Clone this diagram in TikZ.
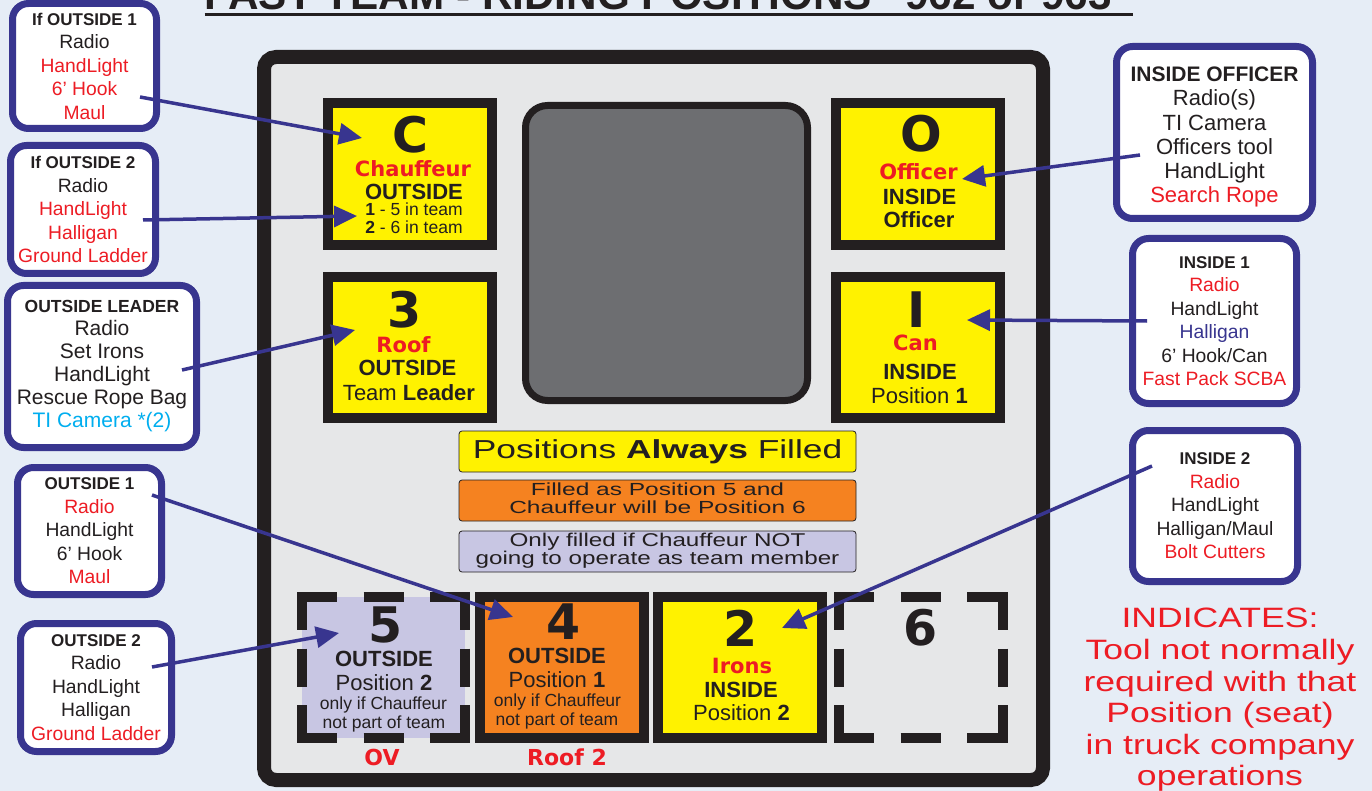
\documentclass[tikz,border=0pt]{standalone}
\usepackage{fontspec}
\setmainfont{Liberation Sans}
\newfontfamily\dispfont{DejaVu Sans}
\usepackage{graphicx}
\usetikzlibrary{positioning,calc,arrows.meta}
\definecolor{BgBlue}{HTML}{E6EDF6}
\definecolor{PanelGrey}{HTML}{E6E7E8}
\definecolor{Ink}{HTML}{231F20}
\definecolor{SeatYellow}{HTML}{FFF200}
\definecolor{SeatOrange}{HTML}{F58220}
\definecolor{SeatLilac}{HTML}{C8C6E3}
\definecolor{ScreenGrey}{HTML}{6D6E71}
\definecolor{CallNavy}{HTML}{38358F}
\definecolor{ToolRed}{HTML}{ED1C24}
\definecolor{CamCyan}{HTML}{00AEEF}
\newcommand\fsz[1]{\fontsize{#1}{#1}\selectfont}
\newcommand\xstretch[2]{\scalebox{#1}[1]{#2}}
\newcommand\toolred[1]{\textcolor{ToolRed}{#1}}
\newcommand\camcyan[1]{\textcolor{CamCyan}{#1}}
\newcommand\navytxt[1]{\textcolor{CallNavy}{#1}}

\begin{document}
\begin{tikzpicture}[x=1pt,y=-1pt,>={Triangle[length=23pt,width=21pt]}]
  \tikzstyle{callout}=[draw=CallNavy,line width=7pt,fill=white,rounded corners=16pt,
    align=center,inner sep=0pt,text=Ink,font=\fontsize{19.3}{23.5}\selectfont]
  \tikzstyle{seat}=[draw=Ink,line width=10pt,minimum width=164pt,minimum height=142pt,inner sep=0pt]
  \tikzstyle{spare}=[minimum width=164pt,minimum height=141pt,inner sep=0pt,outer sep=0pt]
  \tikzstyle{spareedge}=[draw=Ink,line width=10pt,dash pattern=on 40pt off 26.5pt]
  \tikzstyle{spareside}=[draw=Ink,line width=10pt,dash pattern=on 38pt off 18.5pt]
  \tikzstyle{seatno}=[anchor=base,inner sep=0pt,text=Ink,font=\dispfont\bfseries\fsz{49}]
  \tikzstyle{role}=[anchor=base,inner sep=0pt,text=ToolRed,font=\dispfont\bfseries\fsz{21}]
  \tikzstyle{seatline}=[anchor=base,inner sep=0pt,text=Ink,font=\fsz{22}]
  \tikzstyle{seatbold}=[seatline,font=\bfseries\fsz{22}]
  \tikzstyle{seatnote}=[anchor=base,inner sep=0pt,text=Ink,font=\fsz{17.5}]
  \tikzstyle{legend}=[draw=Ink,line width=0.8pt,rounded corners=3pt,minimum width=397pt,
    minimum height=41pt,inner sep=0pt,align=center,text=Ink]
  \tikzstyle{pointer}=[->,line width=3.5pt,color=CallNavy]

  \clip (0,0) rectangle (1372,791);
  \fill[BgBlue] (0,0) rectangle (1372,791);
  \node[anchor=base,inner sep=0pt,text=Ink] (title) at (669,10)
    {\resizebox{928pt}{30pt}{\bfseries FAST TEAM - RIDING POSITIONS “962 or 963”}};
  \draw[Ink,line width=3pt] ([yshift=-4.2pt]title.base west) -- ([yshift=-4.2pt]title.base east);

  \draw[draw=Ink,fill=PanelGrey,line width=14pt,rounded corners=12pt] (264,57) rectangle (1043,780);
  \draw[draw=Ink,fill=ScreenGrey,line width=7pt,rounded corners=22pt] (525.5,105.5) rectangle (807.5,400.5);

  \node[seat,fill=SeatYellow] (seatC) at (410,174) {};
  \node[seat,fill=SeatYellow] (seatO) at (918,174) {};
  \node[seat,fill=SeatYellow,minimum height=141pt] (seatThree) at (410,347.5) {};
  \node[seat,fill=SeatYellow,minimum height=141pt] (seatI) at (918,347.5) {};
  \node[spare,fill=SeatLilac,minimum width=163pt] (seatFive) at (383.5,667.5) {};
  \node[seat,fill=SeatOrange,minimum height=141pt] (seatFour) at (562,667.5) {};
  \node[seat,fill=SeatYellow,minimum height=141pt] (seatTwo) at (740,667.5) {};
  \node[spare] (seatSix) at (921,667.5) {};
  \foreach \s in {seatFive,seatSix} {
    \draw[spareedge] ([xshift=-5pt]\s.north west) -- ([xshift=5pt]\s.north east);
    \draw[spareedge] ([xshift=-5pt]\s.south west) -- ([xshift=5pt]\s.south east);
    \draw[spareside] ([yshift=5pt]\s.north west) -- ([yshift=-5pt]\s.south west);
    \draw[spareside] ([yshift=5pt]\s.north east) -- ([yshift=-5pt]\s.south east);
  }

  \node[seatno] (cNo) at (410,153) {C};
  \node[role] (cRole) at (413,177) {Chauffeur};
  \node[seatbold] (cSide) at (414,200) {OUTSIDE};
  \node[seatnote] (cTeamA) at (414,216) {\textbf{1} - 5 in team};
  \node[seatnote] (cTeamB) at (414,234) {\textbf{2} - 6 in team};

  \node[seatno] (threeNo) at (405,327) {3};
  \node[role] (threeRole) at (403.5,352) {Roof};
  \node[seatbold] (threeSide) at (407.5,375) {OUTSIDE};
  \node[seatline] (threePos) at (409,400) {Team \textbf{Leader}};

  \node[seatno] (oNo) at (921.5,152) {O};
  \node[role] (oRole) at (918.5,180) {Officer};
  \node[seatbold] (oSide) at (919.5,205) {INSIDE};
  \node[seatbold] (oPos) at (919,228) {Officer};

  \node[seatno] (iNo) at (917,327) {I};
  \node[role] (iRole) at (915.5,350) {Can};
  \node[seatbold] (iSide) at (920,379) {INSIDE};
  \node[seatline] (iPos) at (919.5,403) {Position \textbf{1}};

  \node[seatno] (fiveNo) at (386,642) {5};
  \node[seatbold] (fiveSide) at (384,666) {OUTSIDE};
  \node[seatline] (fivePos) at (384,690) {Position \textbf{2}};
  \node[seatnote] (fiveIfA) at (383.5,709) {only if Chauffeur};
  \node[seatnote] (fiveIfB) at (384,728) {not part of team};

  \node[seatno] (fourNo) at (564,639) {4};
  \node[seatbold] (fourSide) at (557,663) {OUTSIDE};
  \node[seatline] (fourPos) at (557,687) {Position \textbf{1}};
  \node[seatnote] (fourIfA) at (557.5,706) {only if Chauffeur};
  \node[seatnote] (fourIfB) at (557,725) {not part of team};

  \node[seatno] (twoNo) at (741,646) {2};
  \node[role] (twoRole) at (742,673) {Irons};
  \node[seatbold] (twoSide) at (741,697) {INSIDE};
  \node[seatline] (twoPos) at (741.5,720) {Position \textbf{2}};

  \node[seatno] (sixNo) at (921,645) {6};
  \node[role,font=\dispfont\bfseries\fsz{22}] (ovTag) at (382,765) {OV};
  \node[role,font=\dispfont\bfseries\fsz{22}] (roofTag) at (567,765) {Roof 2};

  \node[legend,fill=SeatYellow] (keyAlways) at (657.5,451.5)
    {\fsz{26}\xstretch{1.36}{Positions \textbf{Always} Filled}};
  \node[legend,fill=SeatOrange] (keyFive) at (657.5,500.5)
    {\fontsize{17.5}{15.5}\selectfont\xstretch{1.4}{\begin{tabular}{@{}c@{}}Filled as Position 5 and\\Chauffeur will be Position 6\end{tabular}}};
  \node[legend,fill=SeatLilac] (keyOnly) at (657.5,551.5)
    {\fontsize{18.5}{16}\selectfont\xstretch{1.31}{\begin{tabular}{@{}c@{}}Only filled if Chauffeur NOT\\going to operate as team member\end{tabular}}};

  \node[callout,minimum width=144pt,minimum height=125pt] (ifOutA) at (84.5,66)
    {{\bfseries\fsz{17}If OUTSIDE 1}\\Radio\\\toolred{HandLight}\\\toolred{6’ Hook}\\\toolred{Maul}};
  \node[callout,minimum width=145pt,minimum height=128pt] (ifOutB) at (83,209.5)
    {{\bfseries\fsz{17}If OUTSIDE 2}\\Radio\\\toolred{HandLight}\\\toolred{Halligan}\\\toolred{Ground Ladder}};
  \node[callout,minimum width=189pt,minimum height=162pt,font=\fontsize{21}{23}\selectfont] (outLead) at (102,366.5)
    {{\bfseries\fsz{17.5}OUTSIDE LEADER}\\Radio\\Set Irons\\HandLight\\Rescue Rope Bag\\\camcyan{TI Camera *(2)}};
  \node[callout,minimum width=144pt,minimum height=127pt] (outA) at (89.5,531)
    {{\bfseries\fsz{17}OUTSIDE 1}\\\toolred{Radio}\\HandLight\\6’ Hook\\\toolred{Maul}};
  \node[callout,minimum width=151pt,minimum height=128pt] (outB) at (96,687.5)
    {{\bfseries\fsz{17}OUTSIDE 2}\\Radio\\HandLight\\Halligan\\\toolred{Ground Ladder}};
  \node[callout,minimum width=196pt,minimum height=172pt,font=\fontsize{22}{24.2}\selectfont] (inOff) at (1214.5,132.5)
    {\rule{0pt}{24pt}{\bfseries\fsz{21}INSIDE OFFICER}\\Radio(s)\\TI Camera\\Officers tool\\HandLight\\\toolred{Search Rope}};
  \node[callout,minimum width=164pt,minimum height=165pt] (inA) at (1214.5,321)
    {{\bfseries\fsz{17}INSIDE 1}\\\toolred{Radio}\\HandLight\\\navytxt{Halligan}\\6’ Hook/Can\\\toolred{Fast Pack SCBA}};
  \node[callout,minimum width=165pt,minimum height=151pt] (inB) at (1215,506)
    {{\bfseries\fsz{17}INSIDE 2}\\\toolred{Radio}\\HandLight\\Halligan/Maul\\\toolred{Bolt Cutters}};

  \node[align=center,inner sep=0pt,text=ToolRed,font=\fontsize{28}{31.6}\selectfont] (note) at (1220,700)
    {\xstretch{1.27}{INDICATES:}\\\xstretch{1.27}{Tool not normally}\\\xstretch{1.27}{required with that}\\
     \xstretch{1.27}{Position (seat)}\\\xstretch{1.27}{in truck company}\\\xstretch{1.27}{operations}};

  \draw[pointer] ($(ifOutA.center)+(55.5,31)$) -- ($(seatC.center)+(-48,-36)$);
  \draw[pointer] ($(ifOutB.center)+(60,10.5)$) -- ($(seatC.center)+(-53,42)$);
  \draw[pointer] ($(outLead.center)+(80,3.5)$) -- ($(seatThree.center)+(-55,-17.5)$);
  \draw[pointer] ($(outA.center)+(62.5,-36)$) -- ($(seatFour.center)+(-49,-50.5)$);
  \draw[pointer] ($(outB.center)+(56,-20.5)$) -- ($(seatFive.center)+(-44.5,-34.5)$);
  \draw[pointer] ($(inOff.center)+(-74.5,22.5)$) -- ($(seatO.center)+(44,5)$);
  \draw[pointer] ($(inA.center)+(-67.5,0)$) -- ($(seatI.center)+(49,-27.5)$);
  \draw[pointer] ($(inB.center)+(-63,-40)$) -- ($(seatTwo.center)+(42,-39.5)$);
\end{tikzpicture}
\end{document}
